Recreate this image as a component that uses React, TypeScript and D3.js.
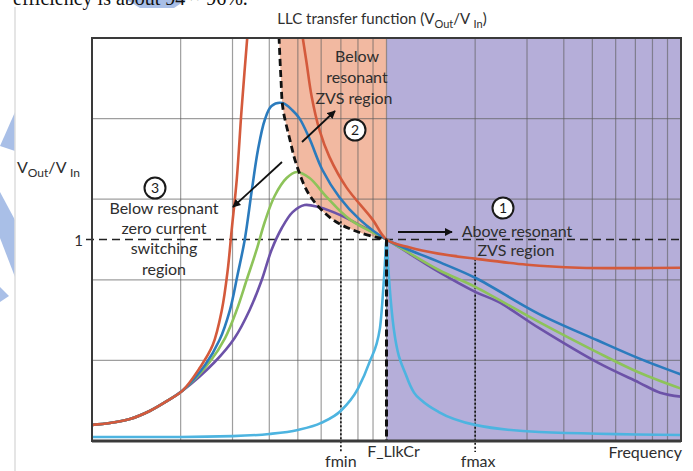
import React from 'react';
import * as d3 from 'd3';

type P = [number, number];

// vertical (frequency) and horizontal (gain) grid lines
const gridFreqs = [2, 3, 4, 5, 6, 7, 8, 9, 10, 20, 30, 40, 50, 60, 70, 80, 90];
const gridGains = [0.4, 0.8, 1.2, 1.6];
const unityGain = 1;
const fMin = 7;
const fRes = 10;
const fMax = 20;

// curves (normalised frequency, Vout/Vin)
const redRise: P[] = [[1, 0.08], [1.15, 0.089], [1.345, 0.109], [1.57, 0.149], [1.8, 0.199], [2.03, 0.25], [2.32, 0.362], [2.57, 0.476], [2.76, 0.65], [2.89, 0.849], [2.98, 1.047], [3.1, 1.295], [3.22, 1.643], [3.4, 2.08]];
const redFall: P[] = [[5.12, 2.06], [5.35, 1.88], [5.57, 1.71], [5.93, 1.54], [6.4, 1.41], [7.3, 1.26], [8.96, 1.1], [10, 1.0], [12, 0.96], [15, 0.93], [20, 0.905], [30, 0.875], [45, 0.86], [70, 0.858], [100, 0.86]];
const blue: P[] = [[1, 0.08], [1.15, 0.089], [1.345, 0.109], [1.57, 0.149], [1.8, 0.199], [2.03, 0.25], [2.42, 0.377], [2.71, 0.501], [2.94, 0.65], [3.12, 0.824], [3.3, 0.998], [3.49, 1.246], [3.66, 1.444], [3.86, 1.593], [4.07, 1.663], [4.44, 1.677], [4.8, 1.64], [5.07, 1.6], [5.48, 1.5], [6.06, 1.345], [6.92, 1.21], [8.1, 1.1], [10, 1.0], [15, 0.89], [20, 0.81], [33, 0.63], [52, 0.5], [72, 0.41], [100, 0.33]];
const green: P[] = [[1, 0.08], [1.15, 0.089], [1.345, 0.109], [1.57, 0.149], [1.8, 0.199], [2.03, 0.25], [2.51, 0.392], [2.83, 0.511], [3.1, 0.65], [3.35, 0.799], [3.62, 0.948], [3.86, 1.087], [4.17, 1.216], [4.58, 1.305], [4.95, 1.335], [5.48, 1.305], [6.27, 1.21], [7.5, 1.1], [10, 1.0], [15, 0.85], [20, 0.765], [33, 0.59], [52, 0.44], [72, 0.34], [100, 0.26]];
const purple: P[] = [[1, 0.08], [1.15, 0.089], [1.345, 0.109], [1.57, 0.149], [1.8, 0.199], [2.03, 0.25], [2.61, 0.392], [3.05, 0.511], [3.43, 0.65], [3.77, 0.799], [4.07, 0.948], [4.41, 1.057], [4.8, 1.136], [5.27, 1.171], [5.9, 1.16], [7.0, 1.12], [8.4, 1.06], [10, 1.0], [15, 0.84], [20, 0.74], [24, 0.69], [33, 0.56], [52, 0.39], [72, 0.29], [85, 0.24], [100, 0.22]];
const cyan: P[] = [[1, 0.02], [2, 0.02], [3, 0.024], [4, 0.035], [5, 0.055], [6, 0.09], [7, 0.15], [8, 0.26], [8.75, 0.39], [9.5, 0.56], [9.85, 0.85], [10, 1.0], [10.15, 0.85], [10.6, 0.55], [11.7, 0.32], [12.4, 0.24], [13.2, 0.2], [15, 0.145], [20, 0.08], [33, 0.045], [100, 0.03]];
const zvsBoundary: P[] = [[4.3, 2.06], [4.38, 1.8], [4.45, 1.65], [4.69, 1.5], [4.95, 1.37], [5.48, 1.22], [6.55, 1.1], [8.1, 1.035], [10, 1.0]];

const TXT = '#2e2e2e';
const FONT = 'Lato, "Open Sans", sans-serif';

export default function App() {
  const x = d3.scaleLog().domain([1, 100]).range([92, 681]);
  const y = d3.scaleLinear().domain([0, 2]).range([441, 38]);
  const smooth = d3.line<P>().x(d => x(d[0])).y(d => y(d[1])).curve(d3.curveCatmullRom.alpha(0.5));
  const mono = d3.line<P>().x(d => x(d[0])).y(d => y(d[1])).curve(d3.curveMonotoneX);
  const x0 = x(1), x1 = x(100), yTop = y(2), yBot = y(0);
  const orange = `${smooth(zvsBoundary)}L${x(fRes)},${y(2.06)}Z`;

  const curves: { d: P[]; c: string; spike?: boolean }[] = [
    { d: cyan, c: '#4db4e0', spike: true },
    { d: purple, c: '#6c52a8' },
    { d: green, c: '#8dc35a' },
    { d: blue, c: '#2b7bbd' },
    { d: redRise, c: '#d45a3c' },
    { d: redFall, c: '#d45a3c' },
  ];

  return (
    <svg width={693} height={471} style={{ position: 'absolute', left: 0, top: 0, background: '#fff' }} fontFamily={FONT}>
      <defs>
        <clipPath id="plot"><rect x={x0} y={yTop} width={x1 - x0} height={yBot - yTop} /></clipPath>
        <marker id="ah" viewBox="0 0 10 10" refX={9} refY={5} markerWidth={4.5} markerHeight={4.5} orient="auto">
          <path d="M0,0L10,5L0,10Z" fill="#111" />
        </marker>
      </defs>

      {/* page decoration */}
      <polygon points="127,0 186,0 174,8 140,8" fill="#a9bfe7" />
      <polygon points="0,146 15,112 15,151" fill="#a9bfe7" />
      <polygon points="0,192 15,220 15,277 0,238" fill="#a9bfe7" />
      <polygon points="0,287 9,296 0,302" fill="#a9bfe7" />
      <text x={13} y={5} fontFamily="Times New Roman, Liberation Serif, serif" fontSize={20} fill="#111">efficiency is about 94 ~ 96%.</text>
      <line x1={15} y1={7} x2={15} y2={471} stroke="#dcdcdc" strokeWidth={1.5} />

      {/* regions */}
      <g clipPath="url(#plot)">
        <rect x={x(fRes)} y={yTop} width={x1 - x(fRes)} height={yBot - yTop} fill="#b5aed9" />
        <path d={orange} fill="#f2b9a1" />
      </g>

      {/* grid */}
      <g stroke="#5e5e5e" strokeOpacity={0.6} strokeWidth={1.2}>
        {gridFreqs.map(f => <line key={'v' + f} x1={x(f)} x2={x(f)} y1={yTop} y2={yBot} />)}
        {gridGains.map(g => <line key={'h' + g} x1={x0} x2={x1} y1={y(g)} y2={y(g)} />)}
      </g>

      {/* reference lines */}
      <line x1={x0 - 6} x2={x1} y1={y(unityGain)} y2={y(unityGain)} stroke="#222" strokeWidth={1.6} strokeDasharray="8,5" />
      <line x1={x(fMin)} x2={x(fMin)} y1={y(1.09)} y2={452} stroke="#111" strokeWidth={1.6} strokeDasharray="2,2" />
      <line x1={x(fMax)} x2={x(fMax)} y1={y(0.905)} y2={452} stroke="#111" strokeWidth={1.6} strokeDasharray="2,2" />

      {/* curves */}
      <g clipPath="url(#plot)" fill="none" strokeWidth={2.6}>
        {curves.map((c, i) => <path key={i} d={(c.spike ? mono(c.d) : smooth(c.d)) || ''} stroke={c.c} />)}
        <path d={smooth(zvsBoundary) || ''} stroke="#111" strokeWidth={2.8} strokeDasharray="7,4" />
      </g>
      <line x1={x(fRes)} x2={x(fRes)} y1={y(unityGain)} y2={yBot} stroke="#111" strokeWidth={3} strokeDasharray="7,3" />

      {/* frame */}
      <rect x={x0} y={yTop} width={x1 - x0} height={yBot - yTop} fill="none" stroke="#3a3a3a" strokeWidth={2} />
      <line x1={x0} x2={x1} y1={yBot} y2={yBot} stroke="#3a3a3a" strokeWidth={3} />

      {/* title & axis texts */}
      <text x={382} y={24} textAnchor="middle" fontSize={15} fill={TXT}>
        LLC transfer function (V<tspan fontSize={11} dy={4}>Out</tspan><tspan dy={-4}>/V </tspan><tspan fontSize={11} dy={4}>In</tspan><tspan dy={-4}>)</tspan>
      </text>
      <text x={17} y={173} fontSize={16} fill={TXT}>
        V<tspan fontSize={12} dy={4}>Out</tspan><tspan dy={-4}>/V </tspan><tspan fontSize={12} dy={4}>In</tspan>
      </text>
      <text x={83} y={246} textAnchor="end" fontSize={15} fill={TXT}>1</text>
      <g fontSize={16} fill={TXT}>
        <text x={x(fMin)} y={467} textAnchor="middle">fmin</text>
        <text x={x(fRes) + 7} y={457} textAnchor="middle">F_LlkCr</text>
        <text x={x(fMax) + 3} y={467} textAnchor="middle">fmax</text>
        <text x={682} y={458} textAnchor="end">Frequency</text>
      </g>

      {/* annotations */}
      <g fontSize={16} fill={TXT} textAnchor="middle">
        <text x={164} y={214}>Below resonant</text>
        <text x={164} y={234}>zero current</text>
        <text x={164} y={254}>switching</text>
        <text x={164} y={275}>region</text>
        <text x={357} y={62}>Below</text>
        <text x={357} y={83}>resonant</text>
        <text x={354} y={104}>ZVS region</text>
        <text x={517} y={237}>Above resonant</text>
        <text x={516} y={256}>ZVS region</text>
      </g>
      <g stroke="#111" strokeWidth={1.8} markerEnd="url(#ah)">
        <line x1={282} y1={162} x2={233} y2={207} />
        <line x1={302} y1={142} x2={335} y2={111} />
        <line x1={398} y1={232} x2={452} y2={232} />
      </g>
      {[{ n: '3', cx: 155, cy: 188 }, { n: '2', cx: 355, cy: 130 }, { n: '1', cx: 503, cy: 208 }].map(c => (
        <g key={c.n}>
          <circle cx={c.cx} cy={c.cy} r={10.5} fill="#fff" stroke="#1a1a1a" strokeWidth={2} />
          <text x={c.cx} y={c.cy + 5} textAnchor="middle" fontSize={14} fill="#1a1a1a">{c.n}</text>
        </g>
      ))}
    </svg>
  );
}
